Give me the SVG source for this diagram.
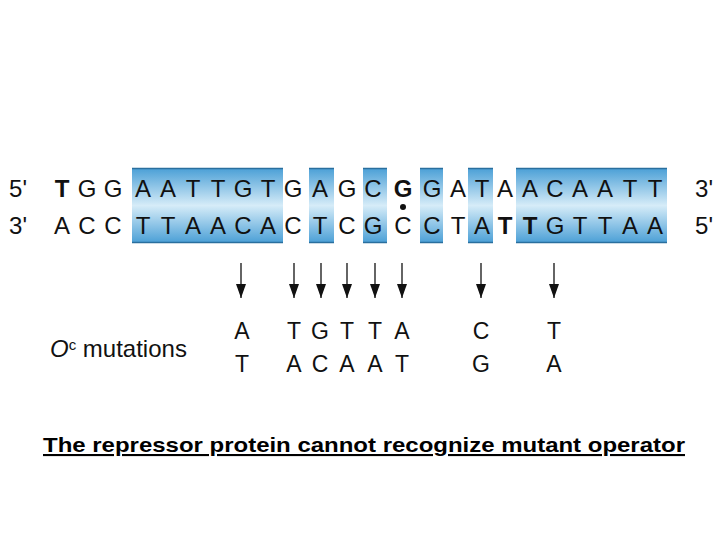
<svg xmlns="http://www.w3.org/2000/svg" width="720" height="540" viewBox="0 0 720 540">
<defs>
<linearGradient id="bg" x1="0" y1="0" x2="0" y2="1">
<stop offset="0" stop-color="#4a9fd6"/>
<stop offset="0.5" stop-color="#d6ecf8"/>
<stop offset="1" stop-color="#4a9fd6"/>
</linearGradient>
<marker id="ah" markerWidth="14" markerHeight="10" refX="14" refY="5" orient="auto" markerUnits="userSpaceOnUse" viewBox="0 0 14 10">
<path d="M0,0 L14,5 L0,10 Z" fill="#111"/>
</marker>
<style>
.b{fill:url(#bg);stroke:none}
.e{stroke:#2a6f9e;stroke-width:1.5}
.s{font-family:"Liberation Sans",Arial,sans-serif;font-size:24px;fill:#111;text-anchor:middle}
.m{font-family:"Liberation Sans",Arial,sans-serif;font-size:23px;fill:#111;text-anchor:middle}
.l{font-family:"Liberation Sans",Arial,sans-serif;font-size:24px;fill:#111}
.a{stroke:#111;stroke-width:1.3;fill:none}
</style>
</defs>
<rect width="720" height="540" fill="#fff"/>
<g id="boxes">
<rect class="b" x="132" y="168" width="151" height="75"/>
<rect class="b" x="309" y="168" width="25" height="75"/>
<rect class="b" x="363" y="168" width="24" height="75"/>
<rect class="b" x="420" y="168" width="23" height="75"/>
<rect class="b" x="468" y="168" width="25" height="75"/>
<rect class="b" x="516" y="168" width="151" height="75"/>
<path class="e" d="M132,168.5H283M309,168.5H334M363,168.5H387M420,168.5H443M468,168.5H493M516,168.5H667M132,242.5H283M309,242.5H334M363,242.5H387M420,242.5H443M468,242.5H493M516,242.5H667"/>
</g>
<g id="top-strand">
<text class="s" x="18" y="197">5'</text>
<text class="s" x="62" y="197" font-weight="bold">T</text>
<text class="s" x="87" y="197">G</text>
<text class="s" x="113" y="197">G</text>
<text class="s" x="143" y="197">A</text>
<text class="s" x="168" y="197">A</text>
<text class="s" x="193" y="197">T</text>
<text class="s" x="218" y="197">T</text>
<text class="s" x="243" y="197">G</text>
<text class="s" x="268" y="197">T</text>
<text class="s" x="293" y="197">G</text>
<text class="s" x="320" y="197">A</text>
<text class="s" x="347" y="197">G</text>
<text class="s" x="373" y="197">C</text>
<text class="s" x="403" y="197" font-weight="bold">G</text>
<text class="s" x="432" y="197">G</text>
<text class="s" x="458" y="197">A</text>
<text class="s" x="482" y="197">T</text>
<text class="s" x="505" y="197">A</text>
<text class="s" x="530" y="197">A</text>
<text class="s" x="555" y="197">C</text>
<text class="s" x="580" y="197">A</text>
<text class="s" x="605" y="197">A</text>
<text class="s" x="630" y="197">T</text>
<text class="s" x="655" y="197">T</text>
<text class="s" x="704" y="197">3'</text>
</g>
<g id="bottom-strand">
<text class="s" x="18" y="234">3'</text>
<text class="s" x="62" y="234">A</text>
<text class="s" x="87" y="234">C</text>
<text class="s" x="113" y="234">C</text>
<text class="s" x="143" y="234">T</text>
<text class="s" x="168" y="234">T</text>
<text class="s" x="193" y="234">A</text>
<text class="s" x="218" y="234">A</text>
<text class="s" x="243" y="234">C</text>
<text class="s" x="268" y="234">A</text>
<text class="s" x="293" y="234">C</text>
<text class="s" x="320" y="234">T</text>
<text class="s" x="347" y="234">C</text>
<text class="s" x="373" y="234">G</text>
<text class="s" x="403" y="234">C</text>
<text class="s" x="432" y="234">C</text>
<text class="s" x="458" y="234">T</text>
<text class="s" x="482" y="234">A</text>
<text class="s" x="505" y="234" font-weight="bold">T</text>
<text class="s" x="530" y="234" font-weight="bold">T</text>
<text class="s" x="555" y="234">G</text>
<text class="s" x="580" y="234">T</text>
<text class="s" x="605" y="234">T</text>
<text class="s" x="630" y="234">A</text>
<text class="s" x="655" y="234">A</text>
<text class="s" x="704" y="234">5'</text>
<circle cx="403" cy="207" r="3" fill="#111"/>
</g>
<g id="connectors">
<line class="a" x1="241" y1="263" x2="241" y2="298" marker-end="url(#ah)"/>
<line class="a" x1="294" y1="263" x2="294" y2="298" marker-end="url(#ah)"/>
<line class="a" x1="321" y1="263" x2="321" y2="298" marker-end="url(#ah)"/>
<line class="a" x1="347" y1="263" x2="347" y2="298" marker-end="url(#ah)"/>
<line class="a" x1="375" y1="263" x2="375" y2="298" marker-end="url(#ah)"/>
<line class="a" x1="402" y1="263" x2="402" y2="298" marker-end="url(#ah)"/>
<line class="a" x1="481" y1="263" x2="481" y2="298" marker-end="url(#ah)"/>
<line class="a" x1="554" y1="263" x2="554" y2="298" marker-end="url(#ah)"/>
</g>
<g id="mutations">
<text class="l" x="50" y="357"><tspan font-style="italic">O</tspan><tspan font-size="15" dy="-7">c</tspan><tspan dy="7"> mutations</tspan></text>
<text class="m" x="242" y="339">A</text>
<text class="m" x="294" y="339">T</text>
<text class="m" x="320" y="339">G</text>
<text class="m" x="347" y="339">T</text>
<text class="m" x="375" y="339">T</text>
<text class="m" x="402" y="339">A</text>
<text class="m" x="481" y="339">C</text>
<text class="m" x="554" y="339">T</text>
<text class="m" x="242" y="372">T</text>
<text class="m" x="294" y="372">A</text>
<text class="m" x="320" y="372">C</text>
<text class="m" x="347" y="372">A</text>
<text class="m" x="375" y="372">A</text>
<text class="m" x="402" y="372">T</text>
<text class="m" x="481" y="372">G</text>
<text class="m" x="554" y="372">A</text>
</g>
<g id="caption">
<text x="43" y="452" font-family="'Liberation Sans',Arial,sans-serif" font-size="21" font-weight="bold" fill="#000" text-decoration="underline" textLength="642" lengthAdjust="spacingAndGlyphs">The repressor protein cannot recognize mutant operator</text>
</g>
</svg>
